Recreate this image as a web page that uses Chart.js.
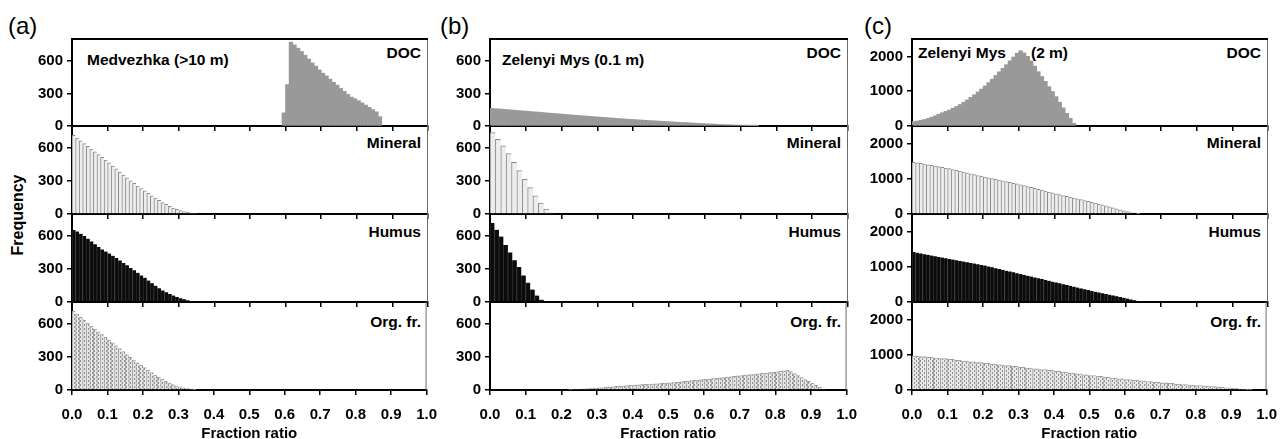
<!DOCTYPE html>
<html><head><meta charset="utf-8">
<script src="https://cdn.jsdelivr.net/npm/chart.js@4.4.1/dist/chart.umd.min.js"></script>
<style>
html,body{margin:0;padding:0;background:#fff;overflow:hidden;}
#wrap{position:relative;width:1280px;height:439px;font-family:"Liberation Sans",Arial,Helvetica,sans-serif;overflow:hidden;}
canvas{position:absolute;}
.t{position:absolute;white-space:nowrap;color:#000;line-height:1;}
.b{font-weight:bold;font-size:15.5px;}
.p{font-size:24px;}
</style></head><body><div id="wrap">
<div class="t p" style="left:8px;top:14px">(a)</div>
<div class="t p" style="left:440px;top:14px">(b)</div>
<div class="t p" style="left:864px;top:14px">(c)</div>
<div class="t b" style="left:18px;top:215px;font-size:16px;transform:translate(-50%,-50%) rotate(-90deg)">Frequency</div>
<div class="t b" style="left:87px;top:52px">Medvezhka (&gt;10 m)</div>
<div class="t b" style="left:502px;top:52px">Zelenyi Mys (0.1 m)</div>
<div class="t b" style="left:918px;top:45px">Zelenyi Mys</div>
<div class="t b" style="left:1031px;top:45px">(2 m)</div>
<div class="t b" style="right:859px;top:45px">DOC</div>
<div class="t b" style="right:439px;top:45px">DOC</div>
<div class="t b" style="right:19px;top:45px">DOC</div>
<div class="t b" style="right:859px;top:135px">Mineral</div>
<div class="t b" style="right:439px;top:135px">Mineral</div>
<div class="t b" style="right:19px;top:135px">Mineral</div>
<div class="t b" style="right:859px;top:224px">Humus</div>
<div class="t b" style="right:439px;top:224px">Humus</div>
<div class="t b" style="right:19px;top:224px">Humus</div>
<div class="t b" style="right:859px;top:314px">Org. fr.</div>
<div class="t b" style="right:439px;top:314px">Org. fr.</div>
<div class="t b" style="right:19px;top:314px">Org. fr.</div>
</div>
<script>
// ---------- tick labels ----------
const X_TICKS = [0,0.1,0.2,0.3,0.4,0.5,0.6,0.7,0.8,0.9,1.0];
const X_TICK_LABELS = ['0.0','0.1','0.2','0.3','0.4','0.5','0.6','0.7','0.8','0.9','1.0'];
const Y_TICKS_AB = [0,300,600];
const Y_TICK_LABELS_AB = ['0','300','600'];
const Y_MAX_AB = 800;
const Y_TICKS_C = [0,1000,2000];
const Y_TICK_LABELS_C = ['0','1000','2000'];
const Y_MAX_C = 2500;
const ROW_NAMES = ['DOC','Mineral','Humus','Org. fr.'];
const X_TITLE = 'Fraction ratio';

// ---------- histogram data (bin start, bin width, frequencies) ----------
// (a) Medvezhka (>10 m)
const A_DOC_START = 0.59, A_DOC_BIN = 0.01;
const A_DOC = [120,380,770,745,715,685,650,615,580,550,515,485,460,430,402,375,345,318,290,265,250,232,212,192,172,150,130,85];
const A_MIN_START = 0, A_MIN_BIN = 0.01;
const A_MIN = [715,690,665,640,615,590,565,540,515,490,465,437,410,382,355,328,302,278,255,232,210,188,166,145,125,105,88,70,55,42,32,23,15,9,4];
const A_HUM_START = 0, A_HUM_BIN = 0.01;
const A_HUM = [655,640,620,600,575,550,525,500,478,458,440,420,400,378,355,333,310,288,265,242,220,195,170,148,125,105,88,72,58,46,35,25,16,9,4];
const A_ORG_START = 0, A_ORG_BIN = 0.01;
const A_ORG = [715,690,662,635,608,580,555,530,505,480,455,430,402,376,350,323,298,272,248,225,203,180,158,137,117,98,80,64,50,38,28,20,13,7,3];

// (b) Zelenyi Mys (0.1 m)
const B_DOC_START = 0, B_DOC_BIN = 0.01;
const B_DOC = [162,159,156,154,151,148,146,143,140,138,
               135,132,129,127,124,121,118,116,113,110,
               108,105,102,99,97,94,92,89,87,84,
               82,79,77,74,72,69,67,65,62,60,
               58,56,54,52,50,48,46,44,42,40,
               38,36,34,32,31,29,27,25,23,22,
               20,18,17,15,14,12,11,10,8,7,
               6,5,4,3,2];
const B_MIN_START = 0, B_MIN_BIN = 0.015;
const B_MIN = [740,680,620,550,470,395,315,240,165,100,45,12];
const B_HUM_START = 0, B_HUM_BIN = 0.0125;
const B_HUM = [718,656,595,518,451,380,319,242,175,113,58,21];
const B_ORG_START = 0.22, B_ORG_BIN = 0.01;
const B_ORG = [3,5,7,9,11,13,15,17,
               19,21,24,27,30,33,36,39,41,43,
               45,47,49,51,53,55,57,59,61,63,
               65,68,71,75,79,82,85,88,91,94,
               97,100,104,107,111,114,118,121,125,128,
               132,135,138,141,145,148,151,155,158,161,
               165,170,175,180,168,150,132,114,96,80,
               62,42,24,8];

// (c) Zelenyi Mys (2 m)
const C_DOC_START = 0, C_DOC_BIN = 0.01;
const C_DOC = [124,140,160,185,215,250,290,335,380,420,
               460,510,560,615,680,746,820,895,975,1060,
               1148,1245,1345,1450,1555,1656,1760,1870,1980,2090,
               2160,2100,2000,1870,1720,1560,1420,1280,1130,990,
               842,680,520,364,220,77];
const C_MIN_START = 0, C_MIN_BIN = 0.01;
const C_MIN = [1470,1455,1440,1420,1400,1385,1365,1345,1325,1305,
               1290,1265,1240,1220,1195,1170,1145,1120,1095,1075,
               1053,1030,1010,985,965,940,920,900,875,855,
               833,808,782,755,730,705,680,652,625,600,
               574,550,527,503,480,455,430,408,383,360,
               335,310,284,258,230,203,176,148,120,93,
               67,42,20,6];
const C_HUM_START = 0, C_HUM_BIN = 0.01;
const C_HUM = [1420,1400,1380,1360,1340,1320,1300,1280,1262,1244,
               1225,1206,1187,1168,1149,1130,1110,1091,1072,1053,
               1034,1010,986,962,938,914,890,866,842,818,
               794,770,746,722,698,674,650,626,602,578,
               555,531,507,483,459,435,411,387,363,339,
               316,294,272,250,228,206,184,162,140,118,
               96,72,48,26,8];
const C_ORG_START = 0, C_ORG_BIN = 0.02;
const C_ORG = [966,947,928,909,890,869,846,823,800,777,
               755,734,713,692,671,648,625,602,580,557,
               533,508,483,458,433,410,387,364,341,318,
               296,277,258,239,220,202,187,172,157,142,
               126,111,95,80,65,46,23,6];

// ---------- assemble ----------
function bins(start, width, values){
  return values.map((v,i)=>({x: start + width*(i+0.5), y: v}));
}
const SERIES = [
  [bins(A_DOC_START,A_DOC_BIN,A_DOC), bins(A_MIN_START,A_MIN_BIN,A_MIN), bins(A_HUM_START,A_HUM_BIN,A_HUM), bins(A_ORG_START,A_ORG_BIN,A_ORG)],
  [bins(B_DOC_START,B_DOC_BIN,B_DOC), bins(B_MIN_START,B_MIN_BIN,B_MIN), bins(B_HUM_START,B_HUM_BIN,B_HUM), bins(B_ORG_START,B_ORG_BIN,B_ORG)],
  [bins(C_DOC_START,C_DOC_BIN,C_DOC), bins(C_MIN_START,C_MIN_BIN,C_MIN), bins(C_HUM_START,C_HUM_BIN,C_HUM), bins(C_ORG_START,C_ORG_BIN,C_ORG)]
];
const YCFG = [
  {ticks:Y_TICKS_AB, labels:Y_TICK_LABELS_AB, max:Y_MAX_AB},
  {ticks:Y_TICKS_AB, labels:Y_TICK_LABELS_AB, max:Y_MAX_AB},
  {ticks:Y_TICKS_C, labels:Y_TICK_LABELS_C, max:Y_MAX_C}
];

// ---------- layout & style ----------
const COLS = [{L:72,R:428},{L:490,R:848},{L:912,R:1268}];
const ROW_Y = [39,126,214,302,390];
const FONT = '"Liberation Sans", Arial, Helvetica, sans-serif';

function hatch(){
  const c = document.createElement('canvas'); c.width = 4; c.height = 4;
  const g = c.getContext('2d');
  g.fillStyle = '#e9e9e9'; g.fillRect(0,0,4,4);
  g.fillStyle = '#8e8e8e';
  g.fillRect(0,0,1,2); g.fillRect(2,2,1,2);
  return g.createPattern(c,'repeat');
}
const STYLES = [
  {backgroundColor:'#999999', borderWidth:0, inflateAmount:0.4},
  {backgroundColor:'#ededed', borderColor:'#8a8a8a', borderWidth:{left:1,top:1,right:0,bottom:0}, inflateAmount:0.3},
  {backgroundColor:'#0b0b0b', borderColor:'#2a2a2a', borderWidth:{left:1,top:0,right:0,bottom:0}, inflateAmount:0.4},
  {backgroundColor:hatch(), borderColor:'#a0a0a0', borderWidth:{left:1,top:1,right:0,bottom:0}, inflateAmount:0.3}
];

const framePlugin = {
  id:'frame',
  afterDraw(chart, args, opts){
    const {ctx, chartArea:a} = chart;
    ctx.save();
    ctx.strokeStyle = '#6a6a6a'; ctx.lineWidth = 1;
    ctx.beginPath(); ctx.moveTo(a.right-0.5, a.top); ctx.lineTo(a.right-0.5, a.bottom); ctx.stroke();
    if (opts.top){
      ctx.strokeStyle = '#000'; ctx.lineWidth = 2;
      ctx.beginPath(); ctx.moveTo(a.left, a.top); ctx.lineTo(a.right, a.top); ctx.stroke();
    }
    ctx.restore();
  }
};

const wrap = document.getElementById('wrap');
const PAD_TOP = 14, PAD_RIGHT = 20, Y_W = 64;

COLS.forEach((col, ci) => {
  for (let r = 0; r < 4; r++){
    const top = ROW_Y[r], bottom = ROW_Y[r+1];
    const isBottom = r === 3;
    const xh = isBottom ? 53 : 14;
    const W = (col.R - col.L) + Y_W + PAD_RIGHT;
    const H = PAD_TOP + (bottom - top) + xh;
    const cv = document.createElement('canvas');
    cv.width = W; cv.height = H;
    cv.style.left = (col.L - Y_W) + 'px'; cv.style.top = (top - PAD_TOP) + 'px';
    cv.style.width = W + 'px'; cv.style.height = H + 'px';
    wrap.appendChild(cv);
    const yc = YCFG[ci];
    new Chart(cv, {
      type:'bar',
      data:{datasets:[Object.assign({label:ROW_NAMES[r], data:SERIES[ci][r], categoryPercentage:1, barPercentage:1}, STYLES[r])]},
      options:{
        responsive:false, animation:false, devicePixelRatio:1,
        layout:{padding:{top:PAD_TOP, right:PAD_RIGHT, left:0, bottom:0}},
        plugins:{legend:{display:false}, tooltip:{enabled:false}, frame:{top: r===0}},
        scales:{
          x:{
            type:'linear', min:0, max:1, offset:false, z:1,
            afterBuildTicks: s => { s.ticks = X_TICKS.map(v => ({value:v})); },
            afterFit: s => { s.height = xh; },
            ticks:{display:isBottom, autoSkip:false, maxRotation:0, padding:11, color:'#000',
                   font:{family:FONT, size:15, weight:'bold'},
                   callback:(v,i) => X_TICK_LABELS[i]},
            grid:{offset:false, drawOnChartArea:false, drawTicks:true, tickLength:5, color:'#000', lineWidth:1.5},
            border:{display:true, color:'#000', width:2},
            title:{display:isBottom, text:X_TITLE, color:'#000', padding:{top:0,bottom:0},
                   font:{family:FONT, size:15, weight:'bold'}}
          },
          y:{
            min:0, max:yc.max, z:1,
            afterBuildTicks: s => { s.ticks = yc.ticks.map(v => ({value:v})); },
            afterFit: s => { s.width = Y_W; },
            ticks:{padding:4, color:'#000', font:{family:FONT, size:15, weight:'bold'},
                   callback:(v,i) => yc.labels[i]},
            grid:{drawOnChartArea:false, drawTicks:true, tickLength:5, color:'#000', lineWidth:1.5},
            border:{display:true, color:'#000', width:2}
          }
        }
      },
      plugins:[framePlugin]
    });
  }
});
</script>
</body></html>
